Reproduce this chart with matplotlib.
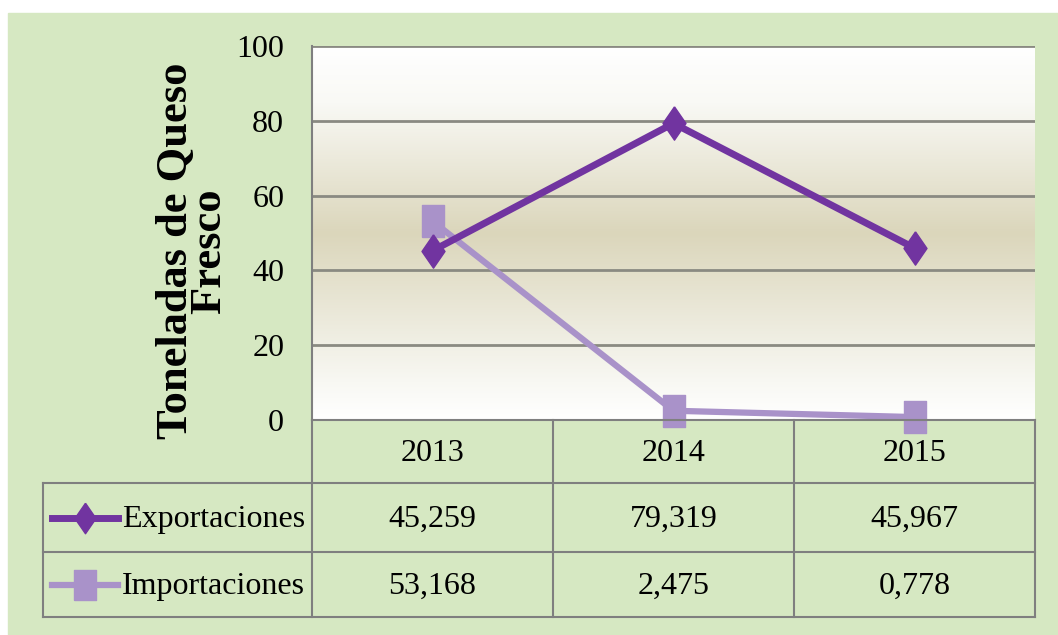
import matplotlib.pyplot as plt
import numpy as np
from matplotlib.colors import LinearSegmentedColormap
from matplotlib.lines import Line2D
from matplotlib.patches import Rectangle

years = ['2013', '2014', '2015']
series_names = ['Exportaciones', 'Importaciones']
exportaciones = [45.259, 79.319, 45.967]
importaciones = [53.168, 2.475, 0.778]
export_labels = ['45,259', '79,319', '45,967']
import_labels = ['53,168', '2,475', '0,778']
yticks = [0, 20, 40, 60, 80, 100]

W, H = 1058, 635
green = '#d6e8c2'
border = '#7f7f7f'
dark = '#7134a0'
light = '#a992c9'
serif = ['Liberation Serif', 'DejaVu Serif']

fig = plt.figure(figsize=(W / 100, H / 100), dpi=100)
fig.patches.append(Rectangle((8 / W, 0), 1 - 8 / W, 1 - 13 / H,
                             transform=fig.transFigure, color=green, zorder=-5))


def px(x0, y0, x1, y1):
    return [x0 / W, 1 - y1 / H, (x1 - x0) / W, (y1 - y0) / H]


# plot area
ax = fig.add_axes(px(312, 46, 1035, 420))
ax.set_xlim(0, 3)
ax.set_ylim(0, 100)
cmap = LinearSegmentedColormap.from_list(
    'bg', [(0, '#ffffff'), (0.1, '#f8f8f3'), (0.5, '#dbd6bb'),
           (0.85, '#f9f9f5'), (1, '#ffffff')])
grad = np.linspace(0, 1, 256).reshape(-1, 1)
ax.imshow(grad, extent=[0, 3, 0, 100], aspect='auto', cmap=cmap,
          origin='lower', zorder=0)
for v in yticks[1:]:
    ax.axhline(v, color='#8a8a82', lw=2, zorder=1)
for s in ['top', 'right', 'bottom']:
    ax.spines[s].set_visible(False)
ax.spines['left'].set_color(border)
ax.spines['left'].set_linewidth(1.5)
ax.set_xticks([])
ax.set_yticks(yticks)
ax.set_yticklabels([str(t) for t in yticks], family=serif, fontsize=23)
ax.tick_params(axis='y', length=0, pad=20)

diamond = [(0, 1.45), (1, 0), (0, -1.45), (-1, 0), (0, 1.45)]
square = [(-1, -1.4), (1, -1.4), (1, 1.4), (-1, 1.4), (-1, -1.4)]
xs = np.arange(len(years)) + 0.5
ax.plot(xs, importaciones, color=light, lw=4.5, marker=square, ms=23,
        zorder=3, clip_on=False)
ax.plot(xs, exportaciones, color=dark, lw=5, marker=diamond, ms=24,
        zorder=4, clip_on=False)

fig.text(193 / W, 1 - 251 / H, 'Toneladas de Queso\nFresco', rotation=90,
         ha='center', va='center', multialignment='center', family=serif,
         fontsize=32, fontweight='bold', linespacing=0.78)

# data table
tax = fig.add_axes([0, 0, 1, 1], zorder=5)
tax.set_xlim(0, W)
tax.set_ylim(H, 0)
tax.axis('off')
cols = [312, 553, 794, 1035]
rows = [420, 483, 552, 617]
lk = dict(color=border, lw=1.5)
tax.plot([cols[0], cols[-1]], [rows[0], rows[0]], **lk)
for r in rows[1:]:
    tax.plot([43, cols[-1]], [r, r], **lk)
for c in cols:
    tax.plot([c, c], [rows[0], rows[-1]], **lk)
tax.plot([43, 43], [rows[1], rows[-1]], **lk)

for i, yr in enumerate(years):
    cx = (cols[i] + cols[i + 1]) / 2
    tax.text(cx, (rows[0] + rows[1]) / 2 + 2, yr, ha='center', va='center',
             family=serif, fontsize=23)
    tax.text(cx, (rows[1] + rows[2]) / 2 + 2, export_labels[i], ha='center',
             va='center', family=serif, fontsize=23)
    tax.text(cx, (rows[2] + rows[3]) / 2 + 2, import_labels[i], ha='center',
             va='center', family=serif, fontsize=23)

keys = [(dark, diamond, 5), (light, square, 4.5)]
for j, name in enumerate(series_names):
    cy = (rows[j + 1] + rows[j + 2]) / 2
    col, mk, lw = keys[j]
    tax.add_line(Line2D([52, 118], [cy, cy], color=col, lw=lw))
    tax.add_line(Line2D([85], [cy], color=col, marker=mk, ms=22))
    tax.text(122, cy + 2, name, ha='left', va='center', family=serif,
             fontsize=23)

fig.savefig('out.png', dpi=100)
